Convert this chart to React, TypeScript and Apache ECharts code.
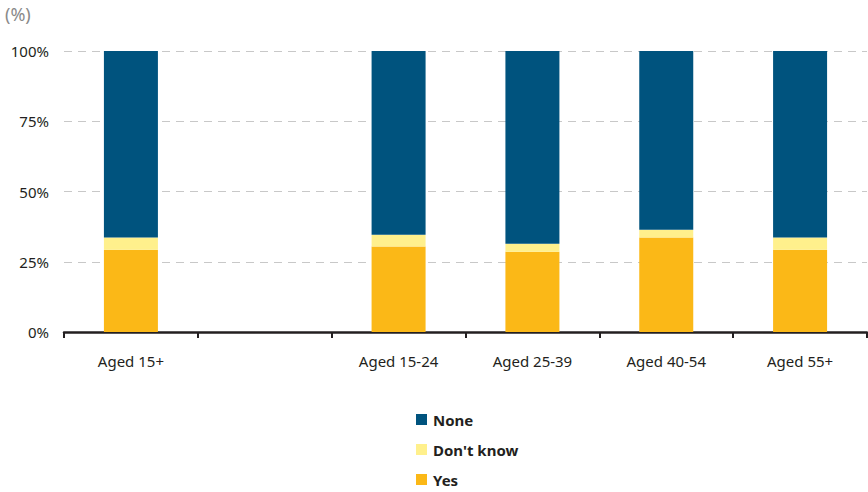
import React, { useEffect, useRef } from "react";
import * as echarts from "echarts";

const categories = ["Aged 15+", "", "Aged 15-24", "Aged 25-39", "Aged 40-54", "Aged 55+"];
const yesValues = [29.3, null, 30.4, 28.6, 33.6, 29.3];
const dontKnowValues = [4.3, null, 4.2, 2.8, 2.8, 4.3];
const noneValues = [66.4, null, 65.4, 68.6, 63.6, 66.4];
const yTicks = [0, 25, 50, 75, 100];

const FONT = "'Noto Sans', 'Open Sans', sans-serif";

export default function App() {
  const ref = useRef<HTMLDivElement>(null);
  useEffect(() => {
    if (!ref.current) return;
    const chart = echarts.init(ref.current, null, { renderer: "svg" });
    const barW = 54;
    chart.setOption({
      animation: false,
      grid: { left: 64, right: 1, top: 51, height: 281, containLabel: false },
      graphic: [
        {
          type: "text",
          left: 5,
          top: 5,
          style: { text: "(%)", fontFamily: FONT, fontSize: 18, fill: "#8a8a8a" },
        },
      ],
      legend: {
        orient: "vertical",
        left: 411,
        top: 407,
        itemWidth: 11,
        itemHeight: 11,
        itemGap: 15,
        icon: "rect",
        data: ["None", "Don't know", "Yes"],
        textStyle: { fontFamily: FONT, fontSize: 15, fontWeight: "bold", color: "#231f20", padding: [0, 0, 0, 1] },
      },
      xAxis: {
        type: "category",
        data: categories,
        axisLine: { lineStyle: { color: "#231f20", width: 2.5 } },
        axisTick: { show: true, length: 6, lineStyle: { color: "#231f20", width: 2 } },
        axisLabel: { fontFamily: FONT, fontSize: 15, color: "#231f20", margin: 21 },
      },
      yAxis: {
        type: "value",
        min: 0,
        max: 100,
        interval: 25,
        axisLabel: {
          fontFamily: FONT,
          fontSize: 15,
          color: "#231f20",
          margin: 15,
          formatter: (v: number) => (yTicks.includes(v) ? v + "%" : ""),
        },
        axisLine: { show: false },
        axisTick: { show: false },
        splitLine: { lineStyle: { color: "#c8c8c8", type: [8, 6], width: 1.2 } },
      },
      series: [
        { name: "Yes", type: "bar", stack: "a", barWidth: barW, data: yesValues, itemStyle: { color: "#fbb817" } },
        { name: "Don't know", type: "bar", stack: "a", barWidth: barW, data: dontKnowValues, itemStyle: { color: "#fff08c" } },
        { name: "None", type: "bar", stack: "a", barWidth: barW, data: noneValues, itemStyle: { color: "#00537e" } },
      ],
    });
    return () => chart.dispose();
  }, []);
  return <div ref={ref} style={{ width: 868, height: 492, position: "absolute", left: 0, top: 0 }} />;
}
